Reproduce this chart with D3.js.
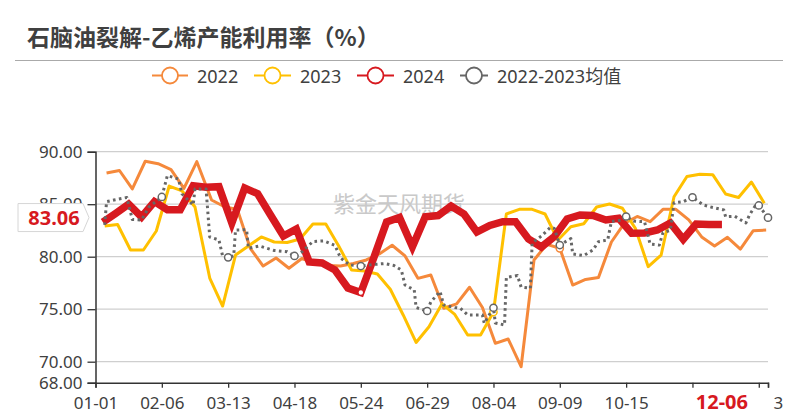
<!DOCTYPE html>
<html><head><meta charset="utf-8">
<script src="https://cdn.jsdelivr.net/npm/d3@7/dist/d3.min.js"></script>
<style>
body{margin:0;background:#fff;}
svg{display:block;font-family:"Noto Sans","Noto Sans CJK SC",sans-serif;}
</style>
</head><body>
<svg id="chart" width="799" height="420"></svg>
<script>
// ---------- data ----------
const titleText = "石脑油裂解-乙烯产能利用率（%）";
const watermarkText = "紫金天风期货";
const seriesNames = ["2022", "2023", "2024", "2022-2023均值"];
const tickLabels = ["01-01","02-06","03-13","04-18","05-24","06-29","08-04","09-09","10-15","11-20","12-26"];
const axisEndDate = "12-31";
const axisEndLabel = "3";
const yTicks = [68, 70, 75, 80, 85, 90];
const pointerDate = "12-06";
const pointerValue = 83.06;

const dates2022 = ["01-07","01-14","01-21","01-28","02-04","02-11","02-18","02-25","03-04","03-11","03-18","03-25","04-01","04-08","04-15","04-22","04-29","05-06","05-13","05-20","05-27","06-03","06-10","06-17","06-24","07-01","07-08","07-15","07-22","07-29","08-05","08-12","08-19","08-26","09-02","09-09","09-16","09-23","09-30","10-07","10-14","10-21","10-28","11-04","11-11","11-18","11-25","12-02","12-09","12-16","12-23","12-30"];
const vals2022 = [87.97,88.21,86.45,89.09,88.86,88.30,86.50,89.05,85.40,84.76,84.50,80.80,79.11,79.88,78.90,79.83,79.40,79.16,79.11,79.35,79.69,80.26,81.09,80.07,77.94,78.26,75.09,75.50,77.09,75.16,71.75,72.16,69.52,79.69,81.18,80.80,77.30,77.83,78.02,81.40,83.18,83.83,83.33,84.51,84.51,83.50,81.88,81.02,81.85,80.73,82.48,82.54];

const dates2023 = ["01-06","01-13","01-20","01-27","02-03","02-10","02-17","02-24","03-03","03-10","03-17","03-24","03-31","04-07","04-14","04-21","04-28","05-05","05-12","05-19","05-26","06-02","06-09","06-16","06-23","06-30","07-07","07-14","07-21","07-28","08-04","08-11","08-18","08-25","09-01","09-08","09-15","09-22","09-29","10-06","10-13","10-20","10-27","11-03","11-10","11-17","11-24","12-01","12-08","12-15","12-22","12-29"];
const vals2023 = [82.92,83.07,80.64,80.64,82.45,86.73,86.26,84.73,77.97,75.30,80.16,81.02,81.88,81.40,81.35,81.69,83.11,83.11,81.02,78.73,78.64,78.35,76.90,74.45,71.83,73.33,75.50,74.50,72.54,72.54,74.73,84.07,84.51,84.51,84.07,81.59,82.86,83.14,84.73,85.02,84.61,82.70,79.05,80.16,85.71,87.64,87.86,87.81,85.97,85.64,87.11,85.09];

const dates2024 = ["01-05","01-12","01-19","01-26","02-02","02-09","02-16","02-23","03-01","03-08","03-15","03-22","03-29","04-05","04-12","04-19","04-26","05-03","05-10","05-17","05-24","05-31","06-07","06-14","06-21","06-28","07-05","07-12","07-19","07-26","08-02","08-09","08-16","08-23","08-30","09-06","09-13","09-20","09-27","10-04","10-11","10-18","10-25","11-01","11-08","11-15","11-22","11-29","12-06"];
const vals2024 = [83.30,84.13,85.00,83.78,85.24,84.48,84.48,86.75,86.62,86.67,83.21,86.54,86.00,83.97,81.97,82.64,79.50,79.40,78.73,77.02,76.59,79.88,83.30,83.73,80.95,83.81,83.92,84.83,84.07,82.35,82.97,83.33,83.33,81.69,80.92,81.90,83.59,83.97,83.92,83.50,83.66,82.23,82.26,82.54,83.21,81.66,83.11,83.06,83.06];

const datesAvg = ["01-06","01-07","01-11","01-18","01-21","01-26","01-30","02-06","02-09","02-15","02-17","02-23","02-24","03-01","03-03","03-08","03-10","03-13","03-16","03-17","03-23","03-24","03-30","04-07","04-14","04-18","04-22","04-28","05-04","05-10","05-13","05-18","05-24","05-31","06-06","06-11","06-15","06-17","06-22","06-23","06-29","07-01","07-06","07-08","07-14","07-17","07-21","07-29","07-30","08-04","08-05","08-10","08-11","08-17","08-19","08-24","08-25","08-30","09-04","09-06","09-09","09-15","09-16","09-22","09-27","09-30","10-05","10-07","10-12","10-15","10-19","10-25","10-28","11-02","11-04","11-08","11-10","11-15","11-20","11-26","12-01","12-07","12-08","12-13","12-19","12-21","12-24","12-26","12-31"];
const valsAvg = [83.02,85.24,85.40,85.64,83.54,83.50,84.73,85.69,87.73,87.40,85.97,84.92,86.45,86.45,81.88,81.59,80.07,79.94,80.07,82.54,82.57,80.80,81.02,80.59,80.48,80.07,80.45,81.45,81.50,81.07,79.88,79.21,79.11,79.26,79.35,79.16,78.73,77.30,76.83,75.16,74.83,75.69,76.69,75.40,75.16,75.09,74.45,74.45,73.66,75.14,73.69,73.50,78.02,78.21,77.11,76.99,81.30,81.97,82.80,82.70,81.11,81.73,80.26,80.11,80.64,81.43,81.59,83.35,83.47,83.83,83.40,83.33,81.21,81.11,82.30,82.51,85.14,85.24,85.66,84.92,84.69,84.45,83.81,83.85,83.21,83.98,84.83,84.88,83.72];

// ---------- setup ----------
const svg = d3.select("#chart");
const parse = md => d3.timeParse("%Y-%m-%d")("2024-" + md);
const fmt = d3.timeFormat("%m-%d");
const textColor = "#404040";

const x = d3.scaleTime().domain([parse("01-01"), parse(axisEndDate)]).range([95.5, 768]);
const y = d3.scaleLinear().domain([68, 90]).range([382.7, 151.7]);

// title
svg.append("text").attr("x", 27).attr("y", 35.5).attr("dominant-baseline", "central")
  .attr("font-family", "'Noto Sans CJK SC',sans-serif").attr("font-weight", "bold")
  .attr("font-size", 23).attr("fill", textColor).text(titleText);
svg.append("line").attr("x1", 15).attr("x2", 783).attr("y1", 60.5).attr("y2", 60.5)
  .attr("stroke", "#aaaaaa").attr("stroke-width", 1.2);

// series definitions
const series = [
  {name: seriesNames[0], dates: dates2022, vals: vals2022, color: "#F5893B", width: 3, dash: null},
  {name: seriesNames[1], dates: dates2023, vals: vals2023, color: "#FFC000", width: 3, dash: null},
  {name: seriesNames[2], dates: dates2024, vals: vals2024, color: "#D7191F", width: 7.5, dash: null},
  {name: seriesNames[3], dates: datesAvg, vals: valsAvg, color: "#666666", width: 3, dash: "2.6,3.4"}
];

// legend
const legendX = [152, 254, 357, 460];
const legendLen = [36, 37, 37, 28];
series.forEach((s, i) => {
  const g = svg.append("g");
  const lx = legendX[i], ly = 75.5, len = legendLen[i];
  g.append("line").attr("x1", lx).attr("x2", lx + len).attr("y1", ly).attr("y2", ly)
    .attr("stroke", s.color).attr("stroke-width", 2);
  g.append("circle").attr("cx", lx + len / 2).attr("cy", ly).attr("r", 8)
    .attr("fill", "#fff").attr("stroke", s.color).attr("stroke-width", 1.8);
  g.append("text").attr("x", lx + len + 9).attr("y", ly).attr("dominant-baseline", "central")
    .attr("font-size", 18).attr("fill", textColor).text(s.name);
});

// grid
svg.append("g").selectAll("line").data(yTicks.filter(v => v > 68)).join("line")
  .attr("x1", 95.5).attr("x2", 768).attr("y1", d => y(d)).attr("y2", d => y(d))
  .attr("stroke", "#cfcfcf").attr("stroke-width", 1.3);

// watermark
svg.append("text").attr("x", 399).attr("y", 201.5).attr("text-anchor", "middle")
  .attr("dominant-baseline", "central").attr("font-family", "'Noto Sans CJK SC',sans-serif")
  .attr("font-size", 22).attr("fill", "#c9c9c9").text(watermarkText);

// y axis
const yAxis = d3.axisLeft(y).tickValues(yTicks).tickFormat(d3.format(".2f")).tickSize(8).tickPadding(5);
const yg = svg.append("g").attr("transform", "translate(95.5,0)").call(yAxis);
yg.select(".domain").attr("stroke", "#333").attr("stroke-width", 1.5);
yg.selectAll(".tick line").attr("stroke", "#333").attr("stroke-width", 1.3);
yg.selectAll(".tick text").attr("font-size", 17).attr("fill", textColor).attr("font-family", "'Noto Sans',sans-serif");

// x axis
const tickDates = tickLabels.map(parse).concat([parse(axisEndDate)]);
const xAxis = d3.axisBottom(x).tickValues(tickDates).tickSize(5).tickPadding(9)
  .tickFormat(d => {
    const s = fmt(d);
    if (s === axisEndDate) return axisEndLabel;
    if (Math.abs(x(d) - x(parse(pointerDate))) < 40) return "";
    return s;
  });
const xg = svg.append("g").attr("transform", "translate(0,382.7)").call(xAxis);
xg.select(".domain").attr("stroke", "#333").attr("stroke-width", 1.5);
xg.selectAll(".tick line").attr("stroke", "#333").attr("stroke-width", 1.3);
xg.selectAll(".tick text").attr("font-size", 17).attr("fill", textColor).attr("font-family", "'Noto Sans',sans-serif");
xg.selectAll(".tick text").filter(d => fmt(d) === axisEndDate).attr("text-anchor", "start").attr("dx", 5);

// lines
const lineGen = d3.line().x(d => x(d.date)).y(d => y(d.v));
const markerSet = new Set(tickLabels.slice(1).concat([axisEndDate]));
const order = [0, 1, 2, 3];
order.forEach(i => {
  const s = series[i];
  const pts = s.dates.map((d, k) => ({md: d, date: parse(d), v: s.vals[k]}));
  const p = svg.append("path").datum(pts).attr("d", lineGen).attr("fill", "none")
    .attr("stroke", s.color).attr("stroke-width", s.width)
    .attr("stroke-linejoin", i === 2 ? "miter" : "round");
  if (s.dash) p.attr("stroke-dasharray", s.dash);
  svg.append("g").selectAll("circle").data(pts.filter(d => markerSet.has(d.md))).join("circle")
    .attr("cx", d => x(d.date)).attr("cy", d => y(d.v)).attr("r", i === 2 ? 2.8 : 3.6)
    .attr("fill", "#fff").attr("stroke", s.color).attr("stroke-width", i === 2 ? 1.2 : 1.5);
});

// y axis pointer label
const yc = y(pointerValue) - 7;
svg.append("path")
  .attr("d", `M18,${yc - 14}H83L89,${yc}L83,${yc + 14}H18Z`)
  .attr("fill", "#fff").attr("stroke", "#d6d6d6").attr("stroke-width", 1);
svg.append("text").attr("x", 54).attr("y", yc).attr("text-anchor", "middle")
  .attr("dominant-baseline", "central").attr("font-weight", "bold").attr("font-size", 20)
  .attr("fill", "#D7191F").text(pointerValue.toFixed(2));

// x axis pointer label
svg.append("text").attr("x", x(parse(pointerDate))).attr("y", 401.5).attr("text-anchor", "middle")
  .attr("dominant-baseline", "central").attr("font-weight", "bold").attr("font-size", 20)
  .attr("fill", "#D7191F").text(pointerDate);
</script>
</body></html>
